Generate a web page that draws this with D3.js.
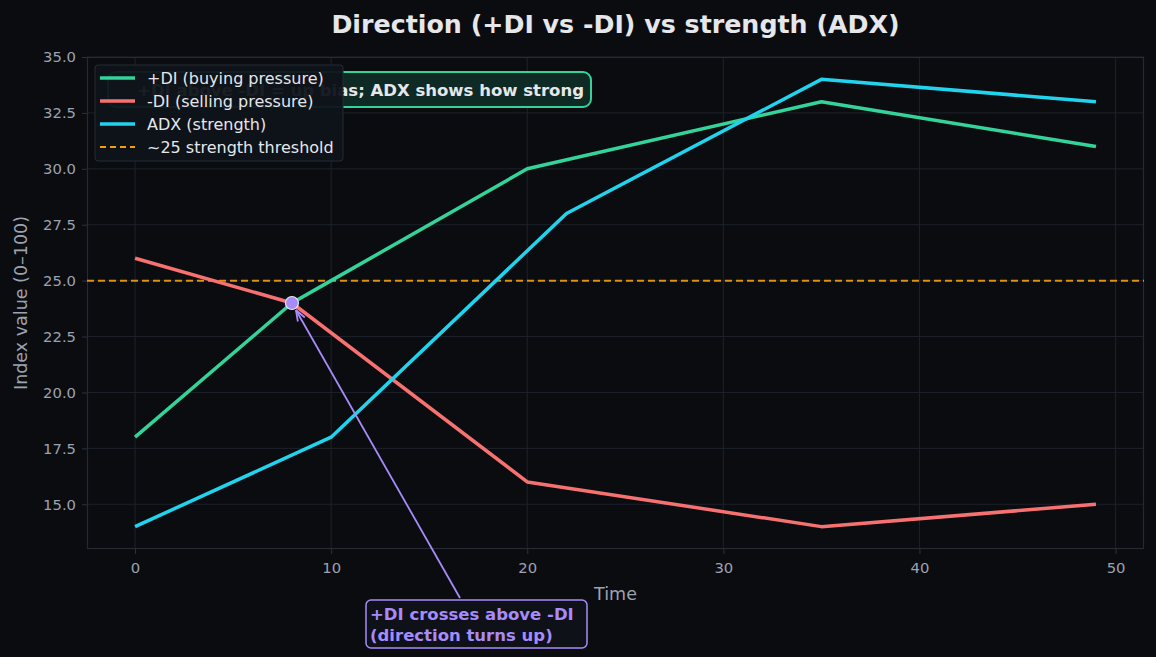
<!DOCTYPE html>
<html lang="en">
<head>
<meta charset="UTF-8">
<title>Direction vs strength</title>
<script src="https://cdnjs.cloudflare.com/ajax/libs/d3/7.8.5/d3.min.js"></script>
<style>
  html, body { margin: 0; padding: 0; background: #0b0c10; }
  svg { display: block; font-family: "DejaVu Sans", sans-serif; }
</style>
</head>
<body>
<div id="chart"></div>
<script>
// data
const plusDI  = [[0, 18], [8, 24], [10, 25], [20, 30], [35, 33], [49, 31]];
const minusDI = [[0, 26], [8, 24], [20, 16], [35, 14], [49, 15]];
const adx     = [[0, 14], [10, 18], [22, 28], [35, 34], [49, 33]];
const threshold = 25;
const crossPoint = [8, 24];
const xTicks = [0, 10, 20, 30, 40, 50];
const yTicks = [15, 17.5, 20, 22.5, 25, 27.5, 30, 32.5, 35];

const W = 1156, H = 657;
const m = { left: 87, right: 12, top: 57, bottom: 108 };
const FONT = "DejaVu Sans, sans-serif";

const svg = d3.select("#chart").append("svg")
  .attr("width", W).attr("height", H);

svg.append("rect").attr("width", W).attr("height", H).attr("fill", "#0b0c10");

const x = d3.scaleLinear().domain([-2.45, 51.45]).range([m.left, W - m.right]);
const y = d3.scaleLinear().domain([13, 35]).range([H - m.bottom, m.top]);

// grid
const grid = svg.append("g").attr("stroke", "#1c222b").attr("stroke-width", 1);
grid.selectAll(".gx").data(xTicks).join("line")
  .attr("x1", d => x(d)).attr("x2", d => x(d))
  .attr("y1", m.top).attr("y2", H - m.bottom);
grid.selectAll(".gy").data(yTicks).join("line")
  .attr("x1", m.left).attr("x2", W - m.right)
  .attr("y1", d => y(d)).attr("y2", d => y(d));

// axes
const xAxis = svg.append("g")
  .attr("transform", `translate(0,${H - m.bottom})`)
  .call(d3.axisBottom(x).tickValues(xTicks).tickSize(5).tickPadding(8).tickFormat(d3.format("d")));
const yAxis = svg.append("g")
  .attr("transform", `translate(${m.left},0)`)
  .call(d3.axisLeft(y).tickValues(yTicks).tickSize(5).tickPadding(6).tickFormat(d3.format(".1f")));
[xAxis, yAxis].forEach(a => {
  a.attr("font-family", FONT).attr("font-size", 14.8);
  a.select(".domain").remove();
  a.selectAll(".tick line").attr("stroke", "#2a323d");
  a.selectAll(".tick text").attr("fill", "#9ca3af");
});

// frame
svg.append("rect")
  .attr("x", m.left + 0.5).attr("y", m.top + 0.5)
  .attr("width", W - m.right - m.left - 1).attr("height", H - m.bottom - m.top - 1)
  .attr("fill", "none").attr("stroke", "#232a34").attr("stroke-width", 1.2);

// threshold
svg.append("line")
  .attr("x1", m.left).attr("x2", W - m.right)
  .attr("y1", y(threshold)).attr("y2", y(threshold))
  .attr("stroke", "#f59e0b").attr("stroke-opacity", 0.9)
  .attr("stroke-width", 2).attr("stroke-dasharray", "7,4");

const line = d3.line().x(d => x(d[0])).y(d => y(d[1]));
const series = [
  { data: plusDI,  color: "#34d399", label: "+DI (buying pressure)" },
  { data: minusDI, color: "#f87171", label: "-DI (selling pressure)" },
  { data: adx,     color: "#22d3ee", label: "ADX (strength)" }
];
series.forEach(s => {
  svg.append("path").datum(s.data)
    .attr("d", line).attr("fill", "none")
    .attr("stroke", s.color).attr("stroke-width", 3.5)
    .attr("stroke-linejoin", "round");
});

// crossover marker
svg.append("circle")
  .attr("cx", x(crossPoint[0])).attr("cy", y(crossPoint[1])).attr("r", 6.5)
  .attr("fill", "#a78bfa").attr("stroke", "#e5e7eb").attr("stroke-width", 1.2);

// top annotation box (sits behind legend)
const topNote = svg.append("g");
topNote.append("rect")
  .attr("x", 108).attr("y", 72).attr("width", 483).attr("height", 35).attr("rx", 8)
  .attr("fill", "#0f2a24").attr("stroke", "#34d399").attr("stroke-width", 2);
topNote.append("text")
  .attr("x", 584).attr("y", 96).attr("text-anchor", "end")
  .attr("fill", "#e5e7eb").style("font-size", "16.5px").style("font-weight", "bold")
  .text("+DI above -DI = up bias; ADX shows how strong");

// legend
const lg = svg.append("g").attr("transform", "translate(95,65)");
lg.append("rect").attr("width", 248).attr("height", 96).attr("rx", 3)
  .attr("fill", "#0f131a").attr("fill-opacity", 0.95)
  .attr("stroke", "#252c36").attr("stroke-width", 1);
const legendItems = series.map(s => ({ color: s.color, label: s.label, dash: null }))
  .concat([{ color: "#f59e0b", label: "~25 strength threshold", dash: "6,4" }]);
legendItems.forEach((d, i) => {
  const yy = 13 + i * 23;
  lg.append("line").attr("x1", 5).attr("x2", 40).attr("y1", yy).attr("y2", yy)
    .attr("stroke", d.color).attr("stroke-width", d.dash ? 2 : 3.5)
    .attr("stroke-dasharray", d.dash);
  lg.append("text").attr("x", 52).attr("y", yy + 5.5)
    .attr("fill", "#e5e7eb").style("font-size", "16px").text(d.label);
});

// crossover annotation
const ax = 460, ay = 598;
const px = x(crossPoint[0]), py = y(crossPoint[1]);
const ang = Math.atan2(py - ay, px - ax);
const tipX = px - Math.cos(ang) * 8, tipY = py - Math.sin(ang) * 8;
svg.append("line")
  .attr("x1", ax).attr("y1", ay).attr("x2", tipX).attr("y2", tipY)
  .attr("stroke", "#a78bfa").attr("stroke-width", 1.8);
const hl = 11, hw = 4;
svg.append("path")
  .attr("d", `M${tipX},${tipY}` +
    `L${tipX - hl * Math.cos(ang) + hw * Math.sin(ang)},${tipY - hl * Math.sin(ang) - hw * Math.cos(ang)}` +
    `M${tipX},${tipY}` +
    `L${tipX - hl * Math.cos(ang) - hw * Math.sin(ang)},${tipY - hl * Math.sin(ang) + hw * Math.cos(ang)}`)
  .attr("stroke", "#a78bfa").attr("stroke-width", 1.8).attr("fill", "none");

const note = svg.append("g");
note.append("rect")
  .attr("x", 366).attr("y", 600).attr("width", 221).attr("height", 48).attr("rx", 5)
  .attr("fill", "#0f1118").attr("stroke", "#a78bfa").attr("stroke-width", 1.5);
note.append("text").attr("x", 370).attr("y", 620)
  .attr("fill", "#a78bfa").style("font-size", "16.5px").style("font-weight", "bold")
  .text("+DI crosses above -DI");
note.append("text").attr("x", 370).attr("y", 641)
  .attr("fill", "#a78bfa").style("font-size", "16.5px").style("font-weight", "bold")
  .text("(direction turns up)");

// axis labels
svg.append("text").attr("x", (m.left + W - m.right) / 2).attr("y", 600)
  .attr("text-anchor", "middle").attr("fill", "#9ca3af").style("font-size", "17.5px")
  .text("Time");
svg.append("text")
  .attr("transform", `translate(27,${(m.top + H - m.bottom) / 2}) rotate(-90)`)
  .attr("text-anchor", "middle").attr("fill", "#9ca3af").style("font-size", "17.5px")
  .text("Index value (0–100)");

// title
svg.append("text").attr("x", (m.left + W - m.right) / 2).attr("y", 33)
  .attr("text-anchor", "middle").attr("fill", "#e5e7eb")
  .style("font-size", "25.3px").style("font-weight", "bold")
  .text("Direction (+DI vs -DI) vs strength (ADX)");
</script>
</body>
</html>
